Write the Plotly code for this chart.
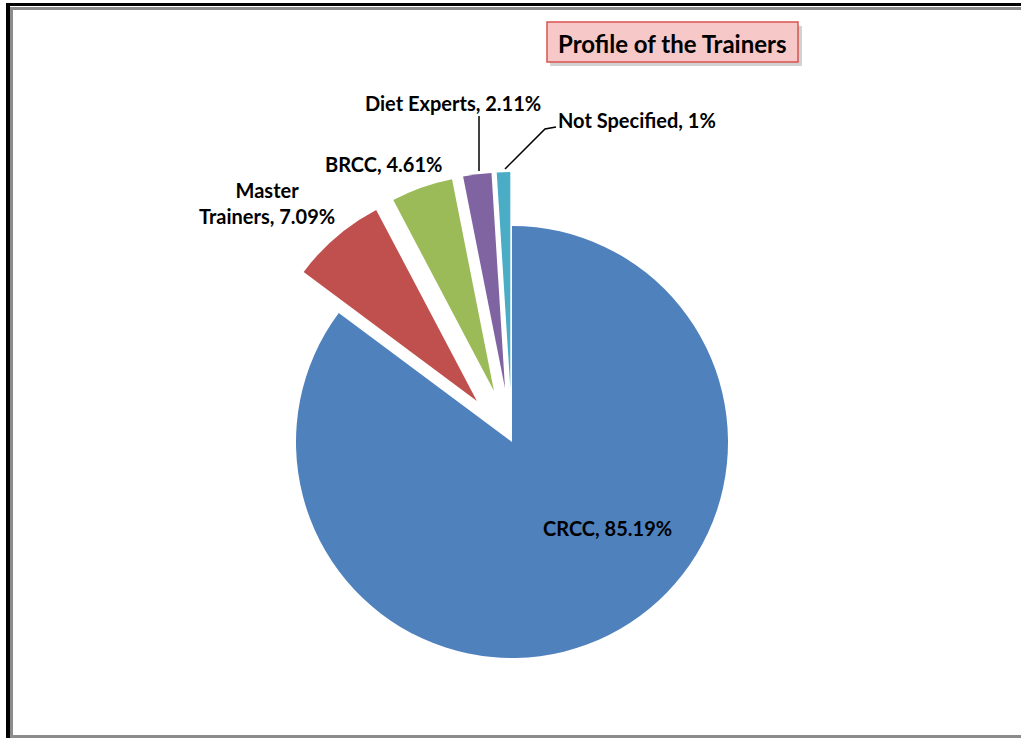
import plotly.graph_objects as go

W, H = 1021, 738

categories = ["CRCC", "Master Trainers", "BRCC", "Diet Experts", "Not Specified"]
values = [85.19, 7.09, 4.61, 2.11, 1.0]
value_labels = ["85.19%", "7.09%", "4.61%", "2.11%", "1%"]
colors = ["#4F81BD", "#C0504D", "#9BBB59", "#8064A2", "#4BACC6"]
pulls = [0, 0.25, 0.25, 0.25, 0.25]
title_text = "Profile of the Trainers"


def px(x):
    return x / W


def py(y):
    return 1 - y / H


# pie box: center (512, 442), radius ~216 with 0.25 pull
cx, cy, half = 512, 442, 270

fig = go.Figure()
fig.add_trace(go.Pie(
    labels=categories,
    values=values,
    marker=dict(colors=colors, line=dict(color="white", width=0)),
    pull=pulls,
    sort=False,
    direction="clockwise",
    rotation=0,
    textinfo="none",
    hoverinfo="label+percent",
    showlegend=False,
    domain=dict(x=[px(cx - half), px(cx + half)], y=[py(cy + half), py(cy - half)]),
))

font = dict(family="Lato, 'Open Sans', sans-serif", size=20, color="black")

label_pos = {
    "CRCC": (607, 528),
    "Master Trainers": (267, 203),
    "BRCC": (383, 164),
    "Diet Experts": (453, 103),
    "Not Specified": (637, 120),
}

annotations = []
for cat, vl in zip(categories, value_labels):
    x, y = label_pos[cat]
    txt = f"{cat}, {vl}"
    if cat == "Master Trainers":
        txt = f"Master<br>Trainers, {vl}"
    annotations.append(dict(
        x=px(x), y=py(y), xref="paper", yref="paper",
        text=f"<b>{txt}</b>", showarrow=False, font=font,
        xanchor="center", yanchor="middle",
    ))

annotations.append(dict(
    x=px(672), y=py(43), xref="paper", yref="paper",
    text=f"<b>{title_text}</b>", showarrow=False,
    font=dict(family="Lato, 'Open Sans', sans-serif", size=24, color="black"),
    xanchor="center", yanchor="middle",
))

shapes = [
    # outer frame
    dict(type="rect", xref="paper", yref="paper", x0=px(11.5), y0=py(736.5), x1=px(1030), y1=py(8.5),
         line=dict(color="#8c8c8c", width=3), fillcolor="rgba(0,0,0,0)"),
    dict(type="line", xref="paper", yref="paper", x0=px(6), y0=py(4.5), x1=px(1025), y1=py(4.5),
         line=dict(color="black", width=3)),
    dict(type="line", xref="paper", yref="paper", x0=px(8), y0=py(3), x1=px(8), y1=py(740),
         line=dict(color="black", width=4)),
    # title box shadow + box
    dict(type="rect", xref="paper", yref="paper", x0=px(550), y0=py(66), x1=px(802), y1=py(26),
         line=dict(width=0), fillcolor="rgba(0,0,0,0.18)", layer="below"),
    dict(type="rect", xref="paper", yref="paper", x0=px(547), y0=py(62), x1=px(798), y1=py(22),
         line=dict(color="#D9534F", width=1.5), fillcolor="#F6C9C8"),
    # leader lines
    dict(type="line", xref="paper", yref="paper", x0=px(479), y0=py(116), x1=px(479), y1=py(171),
         line=dict(color="black", width=1.5)),
    dict(type="path", xref="paper", yref="paper",
         path=f"M {px(556)} {py(127)} L {px(545)} {py(129)} L {px(505)} {py(169)}",
         line=dict(color="black", width=1.5)),
]

fig.update_layout(
    width=W, height=H,
    margin=dict(l=0, r=0, t=0, b=0),
    paper_bgcolor="white",
    plot_bgcolor="white",
    annotations=annotations,
    shapes=shapes,
)

fig.write_html(
    "out.html",
    config={"displayModeBar": False},
    post_script="document.body.style.margin='0';document.body.style.overflow='hidden';",
)
